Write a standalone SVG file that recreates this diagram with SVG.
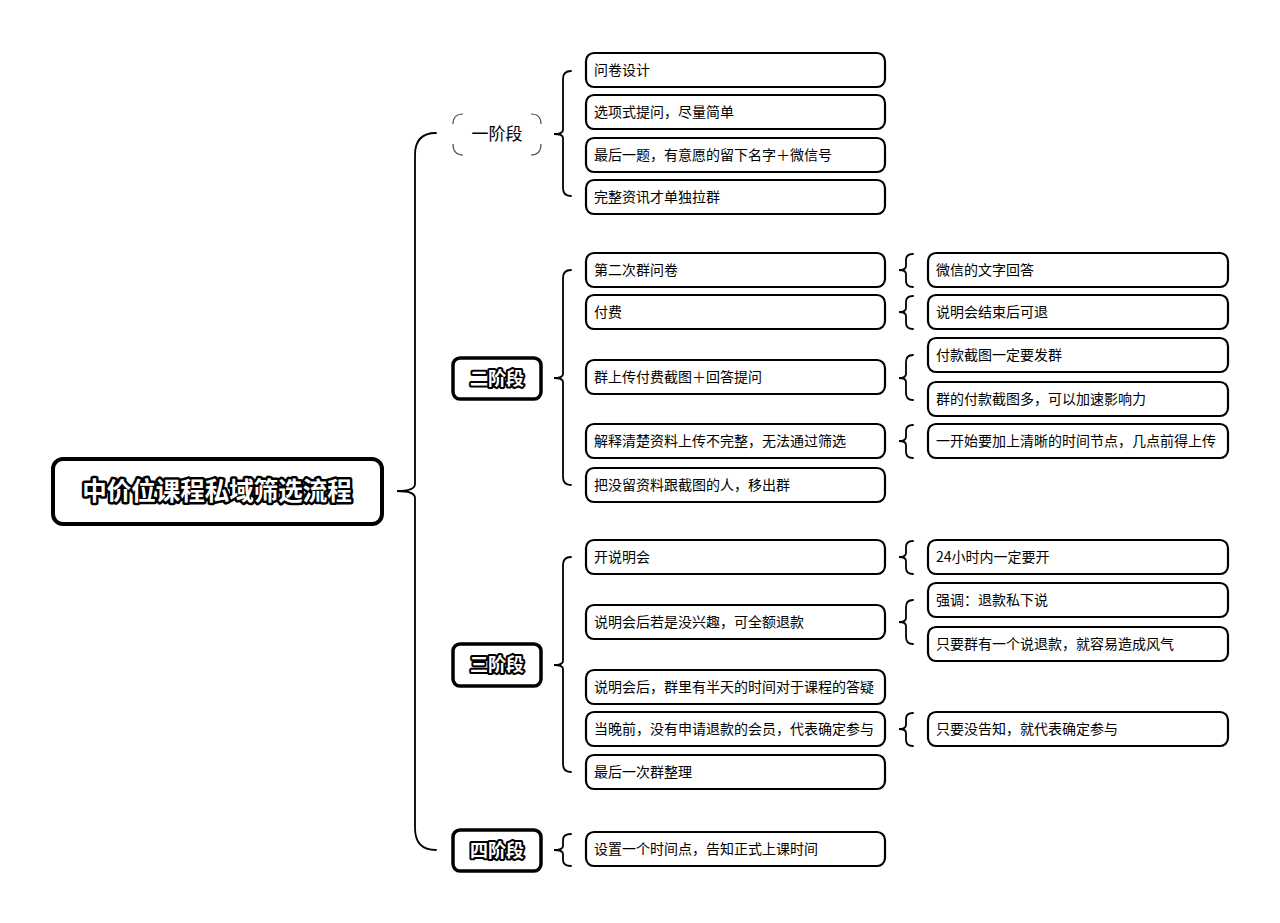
<svg xmlns="http://www.w3.org/2000/svg" width="1280" height="923" viewBox="0 0 1280 923">
<style>
.box{fill:#fff;stroke:#000;stroke-width:2.2}
.stage{fill:#fff;stroke:#000;stroke-width:3.5}
.t{font-family:"Noto Sans CJK SC","Noto Sans",sans-serif;font-size:14px;fill:#000}
.st{font-family:"Noto Sans CJK SC","Noto Sans",sans-serif;font-size:18px;font-weight:bold;fill:#fff;stroke:#000;stroke-width:4;paint-order:stroke;stroke-linejoin:round}
.br{fill:none;stroke:#000;stroke-width:1.8;stroke-linecap:round}
</style>
<rect width="1280" height="923" fill="#fff"/>
<g id="connectors">
<path class="br" stroke-width="2.5" d="M436 133 Q415 133 415 155 L415 484 Q415 491 397 491 Q415 491 415 498 L415 828 Q415 850 436 850"/>
<path class="br" d="M571 71 Q563 71 563 79 L563 130 Q563 134 554 134 Q563 134 563 138 L563 188 Q563 196 571 196"/>
<path class="br" d="M571 270 Q563 270 563 278 L563 374 Q563 378 554 378 Q563 378 563 382 L563 477 Q563 485 571 485"/>
<path class="br" d="M571 557 Q563 557 563 565 L563 661 Q563 665 554 665 Q563 665 563 669 L563 764 Q563 772 571 772"/>
<path class="br" d="M571 834 Q563 834 563 840 L563 846 Q563 850 554 850 Q563 850 563 854 L563 860 Q563 866 571 866"/>
<path class="br" d="M913 254 Q906 254 906 260 L906 266 Q906 270 899 270 Q906 270 906 274 L906 281 Q906 287 913 287"/>
<path class="br" d="M913 296 Q906 296 906 302 L906 308 Q906 312 899 312 Q906 312 906 316 L906 323 Q906 329 913 329"/>
<path class="br" d="M913 355 Q906 355 906 362 L906 374 Q906 378 899 378 Q906 378 906 382 L906 393 Q906 400 913 400"/>
<path class="br" d="M913 425 Q906 425 906 431 L906 437 Q906 441 899 441 Q906 441 906 445 L906 452 Q906 458 913 458"/>
<path class="br" d="M913 541 Q906 541 906 547 L906 553 Q906 557 899 557 Q906 557 906 561 L906 568 Q906 574 913 574"/>
<path class="br" d="M913 600 Q906 600 906 607 L906 618 Q906 622 899 622 Q906 622 906 626 L906 637 Q906 644 913 644"/>
<path class="br" d="M913 713 Q906 713 906 719 L906 725 Q906 729 899 729 Q906 729 906 733 L906 740 Q906 746 913 746"/>
</g>
<g id="root">
<rect x="53" y="459" width="329" height="65" rx="10" fill="#fff" stroke="#000" stroke-width="4"/>
<text x="217" y="500" text-anchor="middle" font-family="Noto Sans CJK SC,sans-serif" font-size="24.5" font-weight="bold" fill="#fff" stroke="#000" stroke-width="5" paint-order="stroke" stroke-linejoin="round">中价位课程私域筛选流程</text>
</g>
<g id="stage1">
<path fill="none" stroke="#555" stroke-width="1.2" d="M453 124 Q453 114 463 114 M531 114 Q541 114 541 124 M541 144 Q541 155 531 155 M463 155 Q453 155 453 144"/>
<text x="497" y="140" text-anchor="middle" font-family="Noto Sans CJK SC,sans-serif" font-size="17" fill="#000">一阶段</text>
</g>
<g id="stage2">
<rect class="stage" x="453" y="358" width="88" height="41" rx="7"/>
<text class="st" x="497" y="385" text-anchor="middle">二阶段</text>
</g>
<g id="stage3">
<rect class="stage" x="453" y="644" width="88" height="42" rx="7"/>
<text class="st" x="497" y="671" text-anchor="middle">三阶段</text>
</g>
<g id="stage4">
<rect class="stage" x="453" y="830" width="88" height="41" rx="7"/>
<text class="st" x="497" y="857" text-anchor="middle">四阶段</text>
</g>
<g id="n1a"><rect class="box" x="586" y="53" width="299" height="34" rx="8"/><text class="t" x="594" y="75">问卷设计</text></g>
<g id="n1b"><rect class="box" x="586" y="95" width="299" height="34" rx="8"/><text class="t" x="594" y="117">选项式提问，尽量简单</text></g>
<g id="n1c"><rect class="box" x="586" y="138" width="299" height="34" rx="8"/><text class="t" x="594" y="160">最后一题，有意愿的留下名字＋微信号</text></g>
<g id="n1d"><rect class="box" x="586" y="180" width="299" height="34" rx="8"/><text class="t" x="594" y="202">完整资讯才单独拉群</text></g>
<g id="n2a"><rect class="box" x="586" y="253" width="299" height="34" rx="8"/><text class="t" x="594" y="275">第二次群问卷</text></g>
<g id="n2b"><rect class="box" x="586" y="295" width="299" height="34" rx="8"/><text class="t" x="594" y="317">付费</text></g>
<g id="n2c"><rect class="box" x="586" y="360" width="299" height="34" rx="8"/><text class="t" x="594" y="382">群上传付费截图＋回答提问</text></g>
<g id="n2d"><rect class="box" x="586" y="424" width="299" height="34" rx="8"/><text class="t" x="594" y="446">解释清楚资料上传不完整，无法通过筛选</text></g>
<g id="n2e"><rect class="box" x="586" y="468" width="299" height="34" rx="8"/><text class="t" x="594" y="490">把没留资料跟截图的人，移出群</text></g>
<g id="g2a"><rect class="box" x="928" y="253" width="300" height="34" rx="8"/><text class="t" x="936" y="275">微信的文字回答</text></g>
<g id="g2b"><rect class="box" x="928" y="295" width="300" height="34" rx="8"/><text class="t" x="936" y="317">说明会结束后可退</text></g>
<g id="g2c"><rect class="box" x="928" y="338" width="300" height="34" rx="8"/><text class="t" x="936" y="360">付款截图一定要发群</text></g>
<g id="g2d"><rect class="box" x="928" y="382" width="300" height="34" rx="8"/><text class="t" x="936" y="404">群的付款截图多，可以加速影响力</text></g>
<g id="g2e"><rect class="box" x="928" y="424" width="300" height="34" rx="8"/><text class="t" x="936" y="446">一开始要加上清晰的时间节点，几点前得上传</text></g>
<g id="n3a"><rect class="box" x="586" y="540" width="299" height="34" rx="8"/><text class="t" x="594" y="562">开说明会</text></g>
<g id="n3b"><rect class="box" x="586" y="605" width="299" height="34" rx="8"/><text class="t" x="594" y="627">说明会后若是没兴趣，可全额退款</text></g>
<g id="n3c"><rect class="box" x="586" y="670" width="299" height="34" rx="8"/><text class="t" x="594" y="692">说明会后，群里有半天的时间对于课程的答疑</text></g>
<g id="n3d"><rect class="box" x="586" y="712" width="299" height="34" rx="8"/><text class="t" x="594" y="734">当晚前，没有申请退款的会员，代表确定参与</text></g>
<g id="n3e"><rect class="box" x="586" y="755" width="299" height="34" rx="8"/><text class="t" x="594" y="777">最后一次群整理</text></g>
<g id="g3a"><rect class="box" x="928" y="540" width="300" height="34" rx="8"/><text class="t" x="936" y="562">24小时内一定要开</text></g>
<g id="g3b"><rect class="box" x="928" y="583" width="300" height="34" rx="8"/><text class="t" x="936" y="605">强调：退款私下说</text></g>
<g id="g3c"><rect class="box" x="928" y="627" width="300" height="34" rx="8"/><text class="t" x="936" y="649">只要群有一个说退款，就容易造成风气</text></g>
<g id="g3d"><rect class="box" x="928" y="712" width="300" height="34" rx="8"/><text class="t" x="936" y="734">只要没告知，就代表确定参与</text></g>
<g id="n4a"><rect class="box" x="586" y="832" width="299" height="34" rx="8"/><text class="t" x="594" y="854">设置一个时间点，告知正式上课时间</text></g>
</svg>
